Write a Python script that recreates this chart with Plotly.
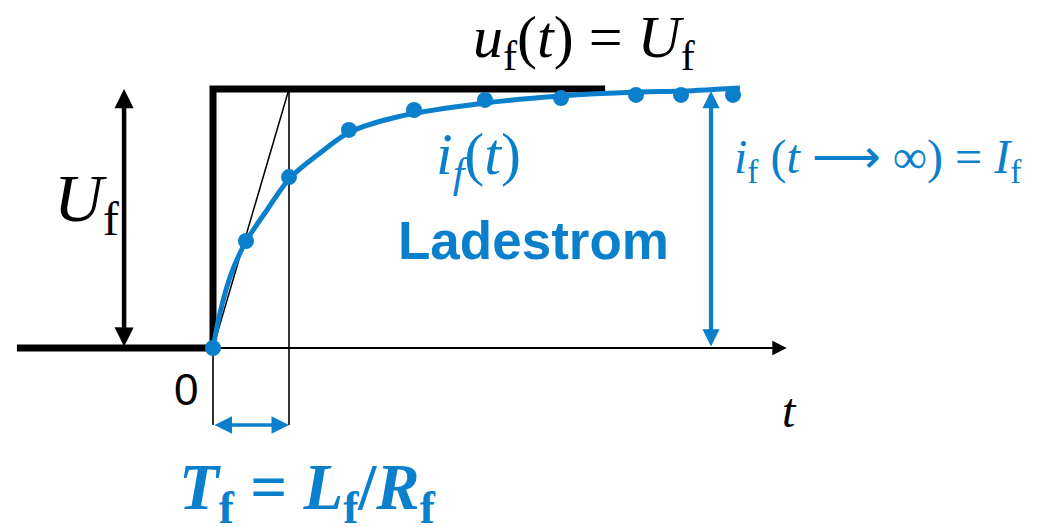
import plotly.graph_objects as go

W, H = 1041, 527
PAGE_OFF = 8  # default body margin of the page that holds the figure
# pixel calibration of the picture (origin, one time constant, one full amplitude)
OX, OY, TX, AY = 213.0, 348.0, 76.0, 259.0

def fx(px):
    return (px - OX) / TX

def fy(py):
    return (OY - py) / AY

BLUE = "#0a80cc"
SERIF = "Liberation Serif, Times New Roman, serif"
SANS = "Liberation Sans, Arial, sans-serif"

# ---- data (t in units of T_f, values in units of U_f / I_f) ----
step_t = [-2.58, 0.0, 0.0, 5.16]
step_u = [0.0, 0.0, 1.0, 1.0]

curve_t = [0.0, 0.092, 0.224, 0.355, 0.461, 0.711, 1.013, 1.408, 1.803, 2.421, 3.579, 4.579, 5.579, 6.171, 6.934]
curve_i = [0.0, 0.135, 0.274, 0.367, 0.425, 0.533, 0.656, 0.753, 0.834, 0.892, 0.946, 0.973, 0.988, 0.992, 1.004]

dots_t = [0.0, 0.434, 1.0, 1.789, 2.645, 3.579, 4.579, 5.566, 6.158, 6.842]
dots_i = [0.0, 0.413, 0.660, 0.842, 0.919, 0.958, 0.965, 0.977, 0.977, 0.977]

tangent_t = [0.0, 1.0]
tangent_i = [0.0, 1.0]

axis_end_t = 7.55
tf_mark_y = -0.297
uf_arrow_t = -1.17
if_arrow_t = 6.553
if_arrow_top = 0.992

fig = go.Figure()

# thin time axis
fig.add_trace(go.Scatter(x=[0.0, axis_end_t - 0.1], y=[0.0, 0.0], mode="lines",
                         line=dict(color="black", width=2), hoverinfo="skip"))
# thin verticals at t=0 and t=T_f
fig.add_trace(go.Scatter(x=[0.0, 0.0], y=[0.0, tf_mark_y], mode="lines",
                         line=dict(color="black", width=1.6), hoverinfo="skip"))
fig.add_trace(go.Scatter(x=[1.0, 1.0], y=[1.0, tf_mark_y], mode="lines",
                         line=dict(color="black", width=1.6), hoverinfo="skip"))
# tangent
fig.add_trace(go.Scatter(x=tangent_t, y=tangent_i, mode="lines",
                         line=dict(color="black", width=1.5), hoverinfo="skip"))
# step voltage
fig.add_trace(go.Scatter(x=step_t, y=step_u, mode="lines",
                         line=dict(color="black", width=7), hoverinfo="skip"))
# current curve
fig.add_trace(go.Scatter(x=curve_t, y=curve_i, mode="lines", line_shape="spline",
                         line=dict(color=BLUE, width=5), hoverinfo="skip"))
fig.add_trace(go.Scatter(x=dots_t, y=dots_i, mode="markers",
                         marker=dict(color=BLUE, size=16), hoverinfo="skip"))

def arrow(x0, y0, x1, y1, color, width, size, both=True):
    fig.add_annotation(x=x1, y=y1, ax=x0, ay=y0, xref="x", yref="y", axref="x", ayref="y",
                       text="", showarrow=True, arrowhead=2, startarrowhead=2,
                       arrowsize=size, startarrowsize=size, arrowwidth=width,
                       arrowcolor=color, arrowside="end+start" if both else "end",
                       standoff=0, startstandoff=0)

arrow(uf_arrow_t, 0.0, uf_arrow_t, 1.0, "black", 4.5, 0.85)
arrow(if_arrow_t, 0.0, if_arrow_t, if_arrow_top, BLUE, 4.3, 0.8)
arrow(0.0, tf_mark_y, 1.0, tf_mark_y, BLUE, 3.5, 1.0)
arrow(fx(700), 0.0, axis_end_t, 0.0, "black", 2, 1.45, both=False)

def label(px, py, text, size, color="black", family=SERIF):
    fig.add_annotation(x=fx(px), y=fy(py), xref="x", yref="y", text=text, showarrow=False,
                       xanchor="center", yanchor="middle",
                       font=dict(family=family, size=size, color=color))

label(584, 41, "<i>u</i><sub>f</sub>(<i>t</i>) = <i>U</i><sub>f</sub>", 60)
label(86, 202, "<i>U</i><sub>f</sub>", 68)
label(478, 158, "<i>i<sub>f</sub></i>(<i>t</i>)", 60, BLUE)
label(533, 240, "<b>Ladestrom</b>", 53, BLUE, SANS)
label(878, 160, "<i>i</i><sub>f</sub> (<i>t</i> ⟶ ∞) = <i>I</i><sub>f</sub>", 48, BLUE)
label(186, 389, "0", 44, "black", SANS)
label(789, 410, "<i>t</i>", 48)
label(307, 492, "<b><i>T</i><sub>f</sub> = <i>L</i><sub>f</sub>/<i>R</i><sub>f</sub></b>", 65, BLUE)

fig.update_layout(
    width=W, height=H, autosize=False,
    margin=dict(l=0, r=0, t=0, b=0),
    paper_bgcolor="white", plot_bgcolor="white",
    showlegend=False,
    xaxis=dict(range=[fx(PAGE_OFF), fx(PAGE_OFF + W)], visible=False, fixedrange=True),
    yaxis=dict(range=[fy(PAGE_OFF + H), fy(PAGE_OFF)], visible=False, fixedrange=True),
)

fig.write_html("out.html")
